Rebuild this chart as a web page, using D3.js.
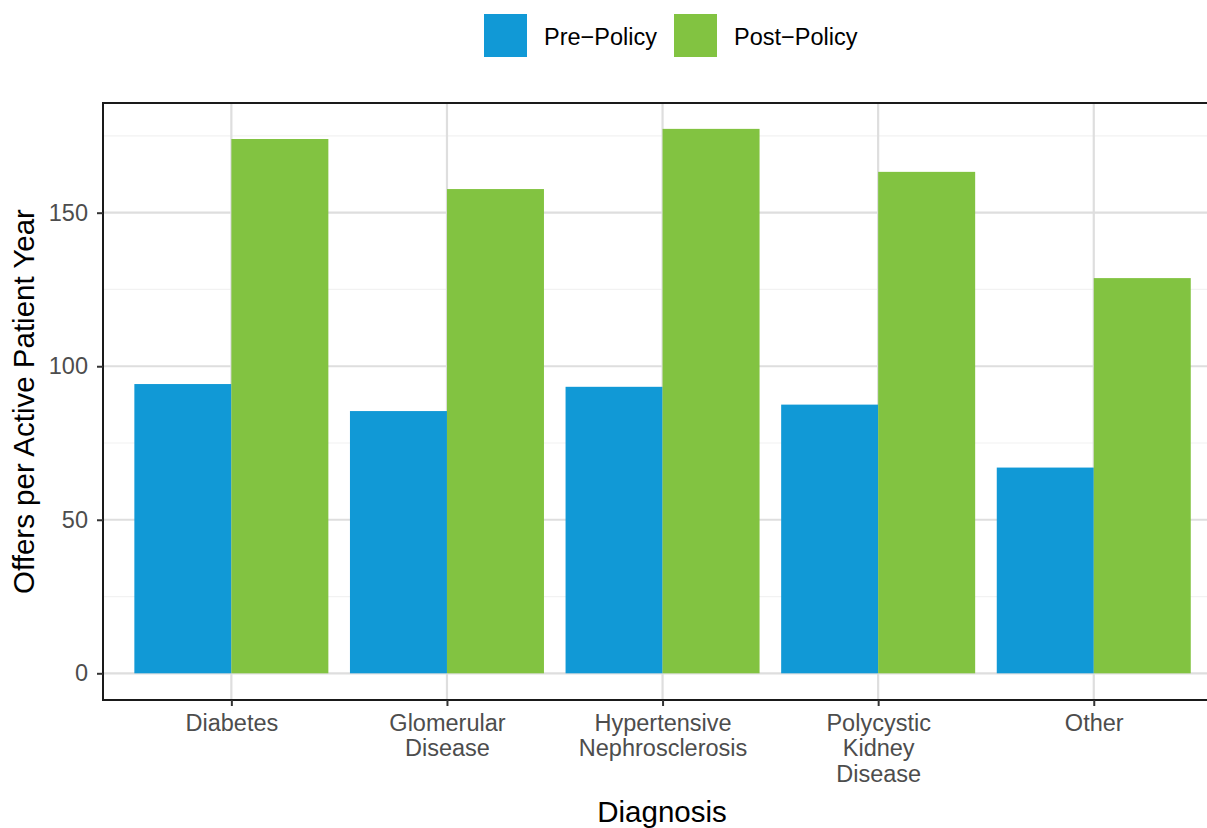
<!DOCTYPE html>
<html>
<head>
<meta charset="utf-8">
<script src="https://cdn.jsdelivr.net/npm/d3@7"></script>
<style>
  html, body { margin: 0; padding: 0; background: #fff; }
  svg { display: block; font-family: "Liberation Sans", Arial, sans-serif; }
</style>
</head>
<body>
<svg id="chart" width="1207" height="828"></svg>
<script>
// ---- data ----
const categories = ["Diabetes", "Glomerular Disease", "Hypertensive Nephrosclerosis", "Polycystic Kidney Disease", "Other"];
const categoryLabels = [["Diabetes"], ["Glomerular", "Disease"], ["Hypertensive", "Nephrosclerosis"], ["Polycystic", "Kidney", "Disease"], ["Other"]];
const seriesNames = ["Pre\u2212Policy", "Post\u2212Policy"];
const preValues = [94.2, 85.4, 93.3, 87.5, 67.0];
const postValues = [174.0, 157.7, 177.3, 163.3, 128.7];
const yTicks = [0, 50, 100, 150];
const yMinorTicks = [25, 75, 125, 175];
const colors = ["#1199D6", "#82C341"];

// ---- layout ----
const svg = d3.select("#chart");
const panel = { left: 103, right: 1224, top: 103, bottom: 700 };
const step = 215.6;
const barW = 97;

const x = d3.scalePoint().domain(categories).range([panel.left + 0.6 * step - 1, panel.left + 4.6 * step - 1]);
const y = d3.scaleLinear().domain([0, 150]).range([673.3, 212.7]);

const g = svg.append("g");

svg.append("defs").append("clipPath").attr("id", "pclip")
  .append("rect").attr("x", panel.left).attr("y", panel.top)
  .attr("width", panel.right - panel.left).attr("height", panel.bottom - panel.top);

const pg = g.append("g").attr("clip-path", "url(#pclip)");

// minor grid
pg.selectAll(".minor").data(yMinorTicks).enter().append("line")
  .attr("x1", panel.left).attr("x2", panel.right)
  .attr("y1", d => y(d)).attr("y2", d => y(d))
  .attr("stroke", "#F2F2F2").attr("stroke-width", 1.2);
// major grid horizontal
pg.selectAll(".majory").data(yTicks).enter().append("line")
  .attr("x1", panel.left).attr("x2", panel.right)
  .attr("y1", d => y(d)).attr("y2", d => y(d))
  .attr("stroke", "#DEDEDE").attr("stroke-width", 2.2);
// major grid vertical
pg.selectAll(".majorx").data(categories).enter().append("line")
  .attr("y1", panel.top).attr("y2", panel.bottom)
  .attr("x1", d => x(d)).attr("x2", d => x(d))
  .attr("stroke", "#DEDEDE").attr("stroke-width", 2.2);

// bars
const series = [preValues, postValues];
series.forEach((vals, si) => {
  pg.selectAll(".bar" + si).data(categories).enter().append("rect")
    .attr("x", (d) => x(d) + (si === 0 ? -barW : 0))
    .attr("width", barW)
    .attr("y", (d, i) => y(vals[i]))
    .attr("height", (d, i) => y(0) - y(vals[i]))
    .attr("fill", colors[si]);
});

// panel border
g.append("rect").attr("x", panel.left).attr("y", panel.top)
  .attr("width", panel.right - panel.left).attr("height", panel.bottom - panel.top)
  .attr("fill", "none").attr("stroke", "#1a1a1a").attr("stroke-width", 2);

// y axis
const yAxis = d3.axisLeft(y).tickValues(yTicks).tickSize(6).tickPadding(9);
const ya = g.append("g").attr("transform", `translate(${panel.left},0)`).call(yAxis);
ya.select(".domain").remove();
ya.selectAll(".tick line").attr("stroke", "#333").attr("stroke-width", 2);
ya.selectAll(".tick text").attr("fill", "#4D4D4D").style("font-size", "23.5px")
  .style("font-family", "'Liberation Sans', Arial, sans-serif");

// x axis
const xAxis = d3.axisBottom(x).tickSize(6).tickFormat("");
const xa = g.append("g").attr("transform", `translate(0,${panel.bottom})`).call(xAxis);
xa.select(".domain").remove();
xa.selectAll(".tick line").attr("stroke", "#333").attr("stroke-width", 2);
xa.selectAll(".tick").each(function(d, i) {
  const t = d3.select(this).append("text")
    .attr("fill", "#4D4D4D").attr("text-anchor", "middle")
    .style("font-size", "23.5px");
  categoryLabels[i].forEach((line, li) => {
    t.append("tspan").attr("x", 0).attr("y", 30.5 + li * 25.8).text(line);
  });
});

// axis titles
g.append("text").attr("x", 662).attr("y", 822)
  .attr("text-anchor", "middle").attr("fill", "#000").style("font-size", "29.5px").text("Diagnosis");
g.append("text").attr("transform", `translate(33.5,${(panel.top + panel.bottom) / 2}) rotate(-90)`)
  .attr("text-anchor", "middle").attr("fill", "#000").style("font-size", "29.5px")
  .text("Offers per Active Patient Year");

// legend
const legendX = [484, 674];
seriesNames.forEach((name, i) => {
  g.append("rect").attr("x", legendX[i]).attr("y", 14).attr("width", 43).attr("height", 43).attr("fill", colors[i]);
  g.append("text").attr("x", legendX[i] + 60).attr("y", 44.5).attr("fill", "#000")
    .style("font-size", "23.5px").text(name);
});
</script>
</body>
</html>
